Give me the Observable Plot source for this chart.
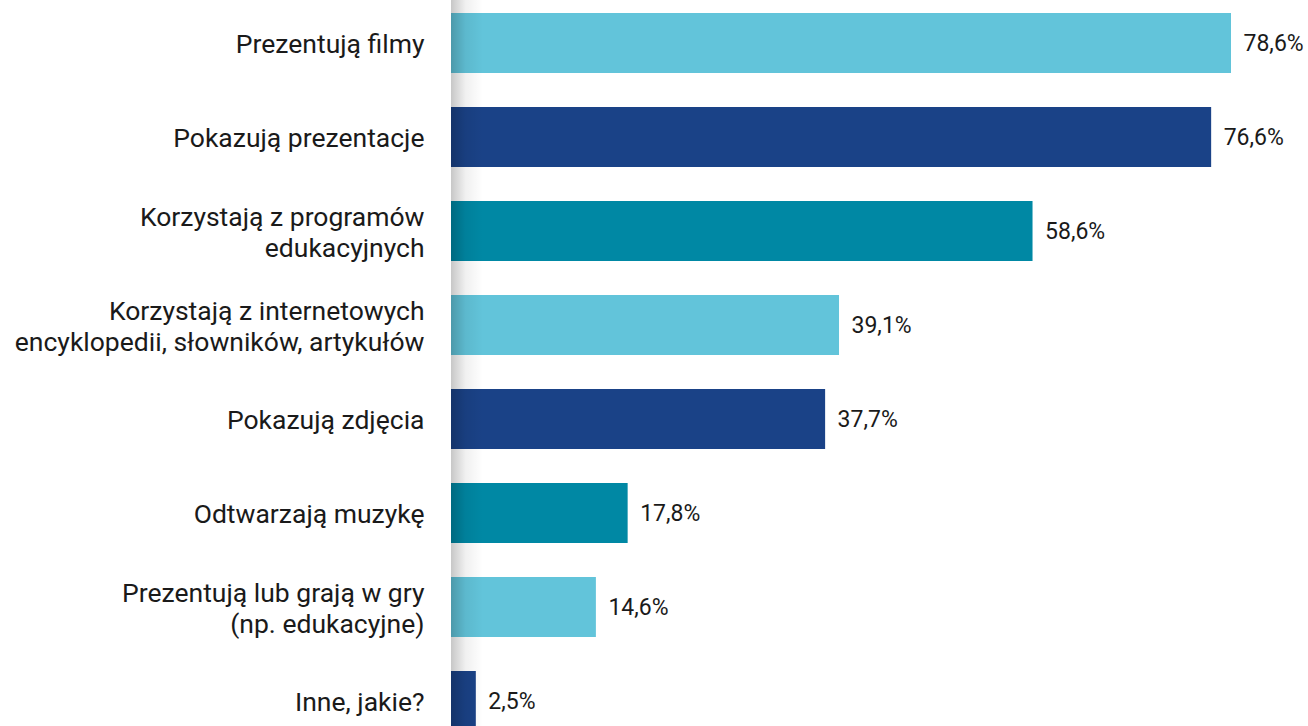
<!DOCTYPE html>
<html>
<head>
<meta charset="utf-8">
<script src="https://cdn.jsdelivr.net/npm/d3@7"></script>
<script src="https://cdn.jsdelivr.net/npm/@observablehq/plot@0.6"></script>
<style>
  html, body { margin: 0; padding: 0; background: #fff; overflow: hidden; }
  #chart svg { display: block; }
</style>
</head>
<body>
<div id="chart"></div>
<script>
const categories = [
  "Prezentują filmy",
  "Pokazują prezentacje",
  "Korzystają z programów\nedukacyjnych",
  "Korzystają z internetowych\nencyklopedii, słowników, artykułów",
  "Pokazują zdjęcia",
  "Odtwarzają muzykę",
  "Prezentują lub grają w gry\n(np. edukacyjne)",
  "Inne, jakie?"
];
const values = [78.6, 76.6, 58.6, 39.1, 37.7, 17.8, 14.6, 2.5];
const valueLabels = ["78,6%", "76,6%", "58,6%", "39,1%", "37,7%", "17,8%", "14,6%", "2,5%"];
const colorCycle = ["#62c4da", "#1a4287", "#0088a4"];

const data = categories.map((c, i) => ({
  category: c,
  value: values[i],
  label: valueLabels[i],
  color: colorCycle[i % 3]
}));

const shadow = (index, scales, values, dimensions) => {
  const g = d3.create("svg:g");
  const defs = g.append("defs");
  const grad = defs.append("linearGradient").attr("id", "leftShadow")
    .attr("x1", "0").attr("x2", "1").attr("y1", "0").attr("y2", "0");
  grad.append("stop").attr("offset", "0").attr("stop-color", "#000").attr("stop-opacity", 0.22);
  grad.append("stop").attr("offset", "0.45").attr("stop-color", "#000").attr("stop-opacity", 0.06);
  grad.append("stop").attr("offset", "1").attr("stop-color", "#000").attr("stop-opacity", 0);
  const x0 = scales.x(0);
  g.append("rect")
    .attr("x", x0).attr("y", 0)
    .attr("width", 32).attr("height", dimensions.height)
    .attr("fill", "url(#leftShadow)");
  return g.node();
};

const chart = Plot.plot({
  width: 1308,
  height: 744,
  marginLeft: 451,
  marginRight: 77,
  marginTop: 0,
  marginBottom: 0,
  style: { fontFamily: "Roboto, sans-serif", fontSize: "23px", color: "#1a1a1a", background: "#fff" },
  x: { domain: [0, d3.max(values)], axis: null },
  y: { domain: categories, axis: null, paddingInner: 0.364, paddingOuter: 0.127 },
  marks: [
    Plot.barX(data, { x: "value", y: "category", fill: "color" }),
    shadow,
    Plot.text(data, {
      x: 0, y: "category", text: "category",
      textAnchor: "end", dx: -27, lineHeight: 1.15,
      fill: "#1a1a1a", fontSize: 26.5
    }),
    Plot.text(data, {
      x: "value", y: "category", text: "label",
      textAnchor: "start", dx: 12,
      fill: "#1a1a1a", fontSize: 23
    })
  ]
});
document.getElementById("chart").appendChild(chart);
</script>
</body>
</html>
